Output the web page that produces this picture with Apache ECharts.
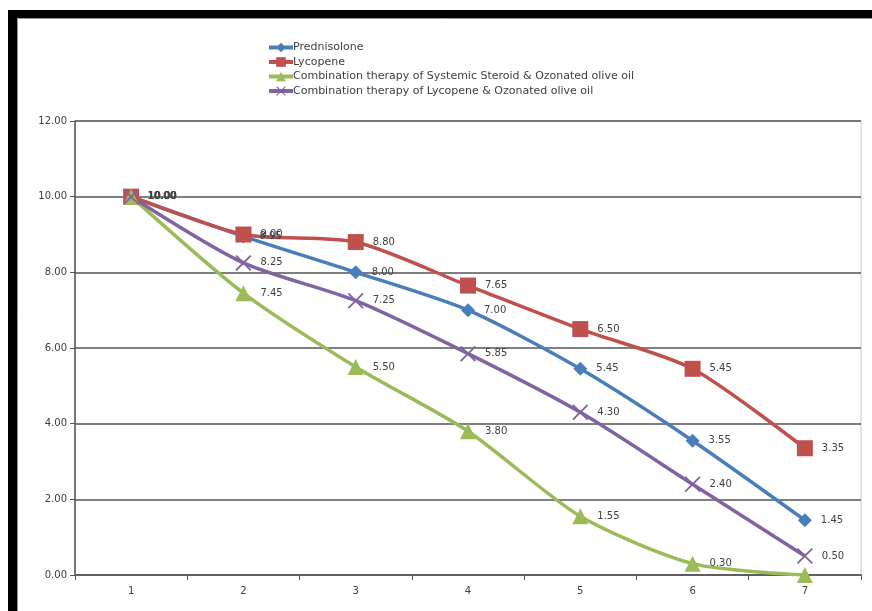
<!DOCTYPE html>
<html>
<head>
<meta charset="utf-8">
<script src="https://cdn.jsdelivr.net/npm/echarts@6/dist/echarts.min.js"></script>
<style>
  html, body { margin: 0; padding: 0; background: #fff; }
  #chart { width: 872px; height: 611px; }
</style>
</head>
<body>
<div id="chart"></div>
<script>
// Week / visit numbers on the x axis
const categories = ['1', '2', '3', '4', '5', '6', '7'];

// Mean scores per treatment group
const prednisolone = [10.00, 8.95, 8.00, 7.00, 5.45, 3.55, 1.45];
const lycopene = [10.00, 9.00, 8.80, 7.65, 6.50, 5.45, 3.35];
const steroidOzonated = [10.00, 7.45, 5.50, 3.80, 1.55, 0.30, 0.00];
const lycopeneOzonated = [10.00, 8.25, 7.25, 5.85, 4.30, 2.40, 0.50];

const seriesNames = [
  'Prednisolone',
  'Lycopene',
  'Combination therapy of Systemic Steroid & Ozonated olive oil',
  'Combination therapy of Lycopene & Ozonated olive oil'
];

const FONT = 'DejaVu Sans';
const crossPath = 'path://M0,0.8L0.8,0L5,4.2L9.2,0L10,0.8L5.8,5L10,9.2L9.2,10L5,5.8L0.8,10L0,9.2L4.2,5Z';

function makeSeries(name, values, color, symbol, size, hideLast) {
  return {
    name: name,
    type: 'line',
    smooth: 0.25,
    data: values.map((v, i) => (hideLast && i === values.length - 1)
      ? { value: v, label: { show: false } }
      : v),
    symbol: symbol,
    symbolSize: size,
    lineStyle: { color: color, width: 3.5 },
    itemStyle: { color: color },
    label: {
      show: true,
      position: 'right',
      distance: 9,
      formatter: p => p.value.toFixed(2),
      color: '#404040',
      fontFamily: FONT,
      fontSize: 10
    }
  };
}

const chart = echarts.init(document.getElementById('chart'), null, { renderer: 'canvas' });

chart.setOption({
  animation: false,
  backgroundColor: '#fff',
  color: ['#4A7EBB', '#C0504D', '#9BBB59', '#8064A2'],
  graphic: [
    { type: 'rect', shape: { x: 8, y: 10, width: 864, height: 8 }, style: { fill: '#000' } },
    { type: 'rect', shape: { x: 8, y: 10, width: 9, height: 601 }, style: { fill: '#000' } },
    { type: 'line', shape: { x1: 17.5, y1: 18.5, x2: 872, y2: 18.5 }, style: { stroke: '#999', lineWidth: 1 } },
    { type: 'line', shape: { x1: 17.5, y1: 18.5, x2: 17.5, y2: 611 }, style: { stroke: '#999', lineWidth: 1 } }
  ],
  legend: {
    orient: 'vertical',
    left: 262,
    top: 37,
    itemWidth: 24,
    itemHeight: 12,
    itemGap: 3.5,
    lineStyle: { width: 4 },
    textStyle: { fontFamily: FONT, fontSize: 11, color: '#404040', padding: [0, 0, 0, -5] },
    data: seriesNames
  },
  grid: {
    left: 75,
    right: 11,
    top: 121,
    bottom: 36,
    show: true,
    borderColor: '#c8c8c8',
    borderWidth: 1
  },
  xAxis: {
    type: 'category',
    data: categories,
    boundaryGap: true,
    axisLine: { lineStyle: { color: '#555', width: 1.5 } },
    axisTick: { show: true, length: 5, lineStyle: { color: '#555' } },
    axisLabel: { fontFamily: FONT, fontSize: 10, color: '#404040', margin: 11 },
    splitLine: { show: false }
  },
  yAxis: {
    type: 'value',
    min: 0,
    max: 12,
    interval: 2,
    axisLine: { show: true, lineStyle: { color: '#555', width: 1.5 } },
    axisTick: { show: true, length: 5, lineStyle: { color: '#555' } },
    axisLabel: {
      fontFamily: FONT, fontSize: 10, color: '#404040', margin: 8,
      formatter: v => v.toFixed(2)
    },
    splitLine: { show: true, lineStyle: { color: '#555', width: 1.5 } }
  },
  series: [
    makeSeries(seriesNames[0], prednisolone, '#4A7EBB', 'diamond', 14, false),
    makeSeries(seriesNames[1], lycopene, '#C0504D', 'rect', 16, false),
    makeSeries(seriesNames[2], steroidOzonated, '#9BBB59', 'triangle', 16, true),
    makeSeries(seriesNames[3], lycopeneOzonated, '#8064A2', crossPath, 16, false)
  ]
});
</script>
</body>
</html>
